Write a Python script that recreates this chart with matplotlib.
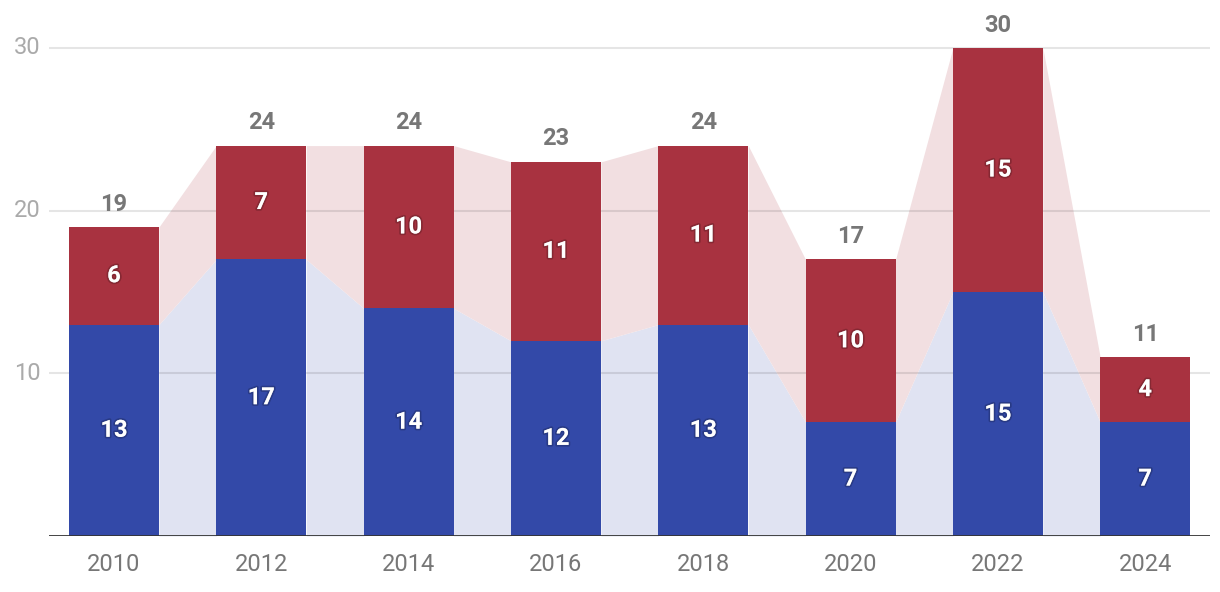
import matplotlib
matplotlib.use("Agg")
import matplotlib.pyplot as plt
import matplotlib.patheffects as pe
import numpy as np

years = ["2010", "2012", "2014", "2016", "2018", "2020", "2022", "2024"]
blue_vals = [13, 17, 14, 12, 13, 7, 15, 7]
red_vals = [6, 7, 10, 11, 11, 10, 15, 4]
y_ticks = [10, 20, 30]

BLUE = "#3349a8"
RED = "#a83240"
BLUE_FILL = "#e0e3f2"
RED_FILL = "#f2dfe1"

plt.rcParams['font.family'] = ['Roboto', 'DejaVu Sans']

fig = plt.figure(figsize=(12.2, 5.92), dpi=100)
ax = fig.add_axes([49 / 1220, 0.0946, (1210 - 49) / 1220, 0.9054])

x = np.arange(len(years))
w = 0.611
blue = np.array(blue_vals)
red = np.array(red_vals)
tot = blue + red

# connecting areas
for i in range(len(years) - 1):
    xs = [x[i] + w / 2, x[i + 1] - w / 2]
    ax.fill_between(xs, [0, 0], [blue[i], blue[i + 1]], color=BLUE_FILL, lw=0, zorder=1)
    ax.fill_between(xs, [blue[i], blue[i + 1]], [tot[i], tot[i + 1]], color=RED_FILL, lw=0, zorder=1)

for t in y_ticks:
    ax.axhline(t, color="#000000", alpha=0.1, lw=1.5, zorder=2)

ax.bar(x, blue, width=w, color=BLUE, zorder=3)
ax.bar(x, red, width=w, bottom=blue, color=RED, zorder=3)

shadow = [pe.withStroke(linewidth=2.5, foreground=(0, 0, 0, 0.2))]
for i in range(len(years)):
    ax.text(x[i], blue[i] / 2, str(blue[i]), ha="center", va="center", color="white",
            fontsize=17, fontweight="bold", zorder=5, path_effects=shadow)
    ax.text(x[i], blue[i] + red[i] / 2, str(red[i]), ha="center", va="center", color="white",
            fontsize=17, fontweight="bold", zorder=5, path_effects=shadow)
    ax.annotate(str(tot[i]), (x[i], tot[i]), xytext=(0, 16.5), textcoords="offset points",
                ha="center", va="center", color="#777777", fontsize=17, fontweight="bold", zorder=5)

ax.set_xlim(-0.441, 7.44)
ax.set_ylim(0, 32.95)
ax.axhline(0, color="#333333", lw=2, zorder=4)

for s in ax.spines.values():
    s.set_visible(False)
ax.set_yticks([])
ax.set_xticks(x)
ax.set_xticklabels(years, color="#777777", fontsize=17)
ax.tick_params(axis="x", length=0, pad=12)

for t in y_ticks:
    ax.annotate(str(t), (-0.441, t), xytext=(-6, 0), textcoords="offset points",
                ha="right", va="center", color="#aaaaaa", fontsize=17, annotation_clip=False)

fig.savefig("out.png", dpi=100)
